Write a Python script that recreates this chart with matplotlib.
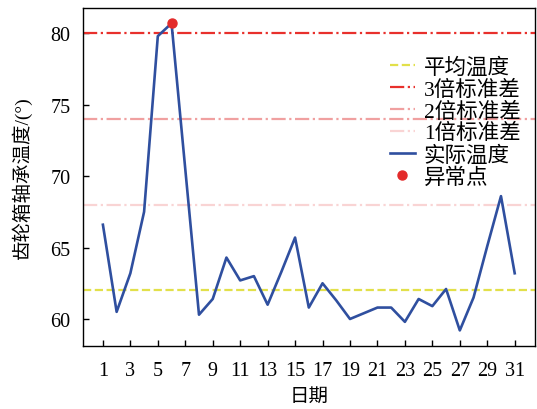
import numpy as np
import matplotlib
matplotlib.use('Agg')
import matplotlib.pyplot as plt

plt.rcParams['font.family'] = ['Liberation Serif', 'Noto Sans CJK SC']
plt.rcParams['axes.unicode_minus'] = False

days = list(range(1, 32))
temps = [66.6, 60.5, 63.2, 67.5, 79.8, 80.7, 70.5, 60.3, 61.4, 64.3,
         62.7, 63.0, 61.0, 63.3, 65.7, 60.8, 62.5, 61.3, 60.0, 60.4,
         60.8, 60.8, 59.8, 61.4, 60.9, 62.1, 59.2, 61.5, 65.1, 68.6, 63.2]
mean_temp = 62.0
sigma = 6.0
anomaly_day = [6]
anomaly_temp = [80.7]
xticks = list(range(1, 32, 2))

fig = plt.figure(figsize=(5.37, 4.10), dpi=100)
ax = fig.add_axes([83 / 537, 1 - 346.7 / 410, (535.3 - 83) / 537, (346.7 - 9.3) / 410])

ax.axhline(mean_temp, color='#e2e04a', ls='--', lw=1.6, label='平均温度')
ax.axhline(mean_temp + 3 * sigma, color='#e8302c', ls='-.', lw=1.6, label='3倍标准差')
ax.axhline(mean_temp + 2 * sigma, color='#f0a0a0', ls='-.', lw=1.6, label='2倍标准差')
ax.axhline(mean_temp + sigma, color='#f9d4d4', ls='-.', lw=1.6, label='1倍标准差')
ax.plot(days, temps, color='#2f4f9f', lw=1.9, label='实际温度')
ax.plot(anomaly_day, anomaly_temp, 'o', color='#e32b2b', ms=6.5, ls='none', label='异常点')

ax.set_xlim(-0.45, 32.5)
ax.set_ylim(58.13, 81.75)
ax.set_xticks(xticks)
ax.set_yticks([60, 65, 70, 75, 80])
ax.tick_params(direction='in', length=4, width=1, labelsize=14.5, pad=9)
ax.tick_params(axis='x', pad=11)
for s in ax.spines.values():
    s.set_linewidth(1.0)

ax.set_xlabel('日期', fontsize=14, labelpad=6)
ax.set_ylabel('齿轮箱轴承温度/(°)', fontsize=14, labelpad=13)

ax.legend(loc='upper left', bbox_to_anchor=(0.679, 0.855), frameon=False,
          fontsize=15.5, handlelength=1.15, handletextpad=0.42, labelspacing=0.08,
          borderpad=0, borderaxespad=0)

fig.savefig('out.png', dpi=100)
